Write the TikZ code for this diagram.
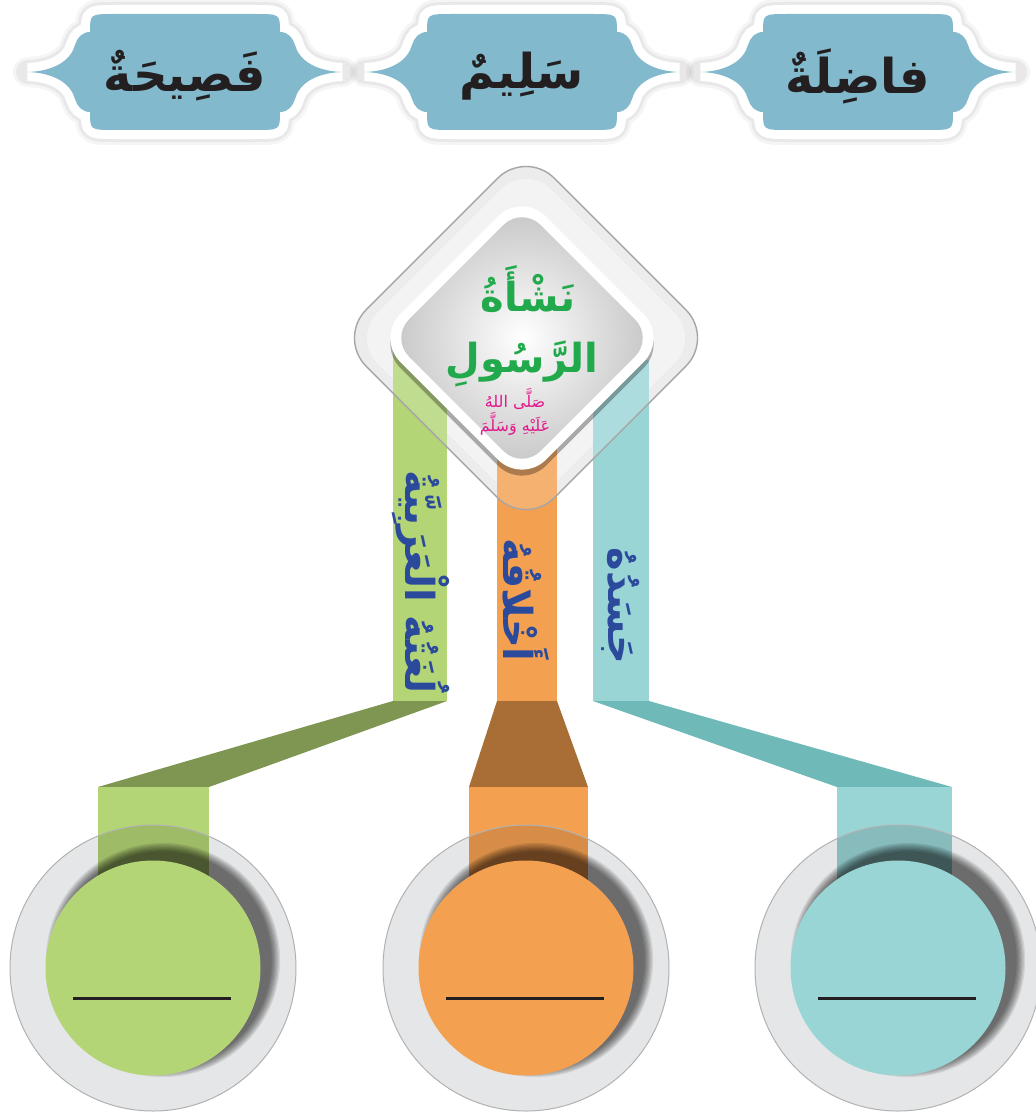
\documentclass[tikz,border=0pt]{standalone}
\usepackage{fontspec}
\newfontfamily\arabicfont[Script=Arabic]{DejaVu Sans}
\TeXXeTstate=1
\usetikzlibrary{calc}

\definecolor{tabblue}{HTML}{82B9CD}
\definecolor{inkblack}{HTML}{231F20}
\definecolor{leaf}{HTML}{B3D576}
\definecolor{leafdark}{HTML}{7E9651}
\definecolor{peach}{HTML}{F4A051}
\definecolor{peachdark}{HTML}{A86E36}
\definecolor{aqua}{HTML}{9AD5D6}
\definecolor{aquadark}{HTML}{6FB9B8}
\definecolor{navy}{HTML}{2B4A9C}
\definecolor{titlegreen}{HTML}{21A94C}
\definecolor{pinkish}{HTML}{E3198C}
\definecolor{ringgray}{HTML}{E5E6E7}

\def\tabpath{(-70,-58) -- (70,-58) .. controls (95,-58) .. (95,-40)
  .. controls (103,-40) and (108,-34) .. (110,-27)
  .. controls (114,-12) and (130,-1) .. (157,0)
  .. controls (130,1) and (114,12) .. (110,27)
  .. controls (108,34) and (103,40) .. (95,40)
  .. controls (95,58) .. (70,58) -- (-70,58)
  .. controls (-95,58) .. (-95,40)
  .. controls (-103,40) and (-108,34) .. (-110,27)
  .. controls (-114,12) and (-130,1) .. (-157,0)
  .. controls (-130,-1) and (-114,-12) .. (-110,-27)
  .. controls (-108,-34) and (-103,-40) .. (-95,-40)
  .. controls (-95,-58) .. (-70,-58) -- cycle}

\tikzset{
  tablabel/.style={font=\arabicfont\bfseries\fontsize{24}{28}\selectfont, text=inkblack, inner sep=0pt},
  bandlabel/.style={font=\arabicfont\bfseries\fontsize{20}{24}\selectfont, text=navy, rotate=-90, inner sep=0pt},
  titlelabel/.style={font=\arabicfont\bfseries\fontsize{20}{24}\selectfont, text=titlegreen, inner sep=0pt},
}

\begin{document}
\begin{tikzpicture}[x=0.5pt,y=-0.5pt]
\useasboundingbox (0,0) rectangle (1035,1113);
\fill[white] (0,0) rectangle (1035,1113);

% top tabs
\foreach \cx/\name/\word in {185/fasiha/فَصِيحَةٌ, 522/salim/سَلِيمٌ, 858/fadila/فاضِلَةٌ}{
  \begin{scope}[shift={(\cx,72)}]
    \draw[black, opacity=0.04, line width=15pt, line join=round] \tabpath;
    \draw[black, opacity=0.05, line width=12pt, line join=round] \tabpath;
    \draw[white, line width=9pt, line join=miter] \tabpath;
    \fill[tabblue] \tabpath;
  \end{scope}
  \node[tablabel] (\name) at (\cx,76) {\beginR\word\endR};
}

% outer diamond, under the bands
\begin{scope}[rotate around={45:(526,338)}]
  \fill[gray!18, rounded corners=20pt] (393,205) rectangle (659,471);
  \fill[white, fill opacity=0.4, rounded corners=18pt] (403,215) rectangle (649,461);
\end{scope}

% bands
\fill[leaf] (393,340) rectangle (447,701);
\fill[peach] (497,430) rectangle (557,701);
\fill[aqua] (593,360) rectangle (649,701);
\fill[leafdark] (393,701) -- (447,701) -- (209,787) -- (98,787) -- cycle;
\fill[peachdark] (497,701) -- (557,701) -- (588,787) -- (469,787) -- cycle;
\fill[aquadark] (593,701) -- (649,701) -- (952,787) -- (837,787) -- cycle;
\fill[leaf] (98,787) rectangle (209,900);
\fill[peach] (469,787) rectangle (588,900);
\fill[aqua] (837,787) rectangle (952,900);

% circles
\foreach \cx/\col/\bl/\br in {153/leaf/98/209, 526/peach/469/588, 898/aqua/837/952}{
  \fill[ringgray] (\cx,968) circle (71.5pt);
  \begin{scope}
    \clip (\cx,968) circle (71.5pt);
    \fill[\col!88!black] (\bl,787) rectangle (\br,900);
    \foreach \k in {1,...,8}
      \fill[black, opacity=0.085] ($(\cx,968)+(10,-8)$) circle ({53.75pt+\k*0.6pt});
  \end{scope}
  \draw[gray!60, line width=0.5pt] (\cx,968) circle (71.5pt);
  \fill[\col] (\cx,968) circle (53.75pt);
  \draw[inkblack, line width=1.5pt] (\cx-80,998) -- (\cx+78,998);
}

% glass rim over the bands
\begin{scope}[rotate around={45:(526,338)}]
  \fill[white, fill opacity=0.18, rounded corners=20pt] (393,205) rectangle (659,471);
  \draw[gray!70, line width=0.7pt, rounded corners=20pt] (393,205) rectangle (659,471);
\end{scope}
\begin{scope}[rotate around={45:(522,344)}]
  \fill[black, opacity=0.3, rounded corners=17pt] (419,241) rectangle (625,447);
\end{scope}
\begin{scope}[rotate around={45:(522,338)}]
  \fill[white, rounded corners=17pt] (419,235) rectangle (625,441);
  \shade[inner color=white, outer color=gray!45, rounded corners=13pt] (429,245) rectangle (615,431);
\end{scope}

\node[titlelabel] (nasha) at (528,289) {\beginR نَشْأَةُ\endR};
\node[titlelabel] (rasul) at (522,364) {\beginR الرَّسُولِ\endR};
\node[font=\arabicfont\fontsize{8}{9.5}\selectfont, text=pinkish, align=center, inner sep=0pt] (salla) at (515,412) {\beginR صَلَّى اللهُ\endR\\\beginR عَلَيْهِ وَسَلَّمَ\endR};

% band texts
\node[bandlabel] (lugha) at (421,582) {\beginR لُغَتُهُ الْعَرَبِيَّةُ\endR};
\node[bandlabel] (akhlaq) at (526,600) {\beginR أَخْلاقُهُ\endR};
\node[bandlabel] (jasad) at (621,606) {\beginR جَسَدُهُ\endR};
\end{tikzpicture}
\end{document}
